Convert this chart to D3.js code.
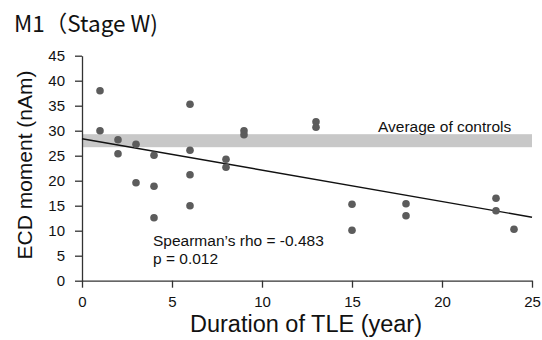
<!DOCTYPE html>
<html>
<head>
<meta charset="utf-8">
<script src="https://cdn.jsdelivr.net/npm/d3@7"></script>
<style>
  body { margin: 0; background: #fff; }
  text { font-family: "Liberation Sans", Arial, sans-serif; fill: #111; }
</style>
</head>
<body>
<div id="chart"></div>
<script>
//////////////////////////////////////////////////////////////
///////////////////////// Data ///////////////////////////////
//////////////////////////////////////////////////////////////

var durations = [1, 1, 2, 2, 3, 3, 4, 4, 4, 6, 6, 6, 6, 8, 8, 9, 9, 13, 13, 15, 15, 18, 18, 23, 23, 24];
var moments   = [38, 30, 28.2, 25.4, 27.3, 19.6, 25.1, 18.9, 12.6, 35.3, 26.1, 21.2, 15, 24.3, 22.7, 30, 29.2, 31.8, 30.7, 15.3, 10.1, 15.4, 13, 16.5, 14, 10.3];

var fitLine = [[0, 28.4], [25, 12.7]];
var controlBand = [26.7, 29.3];

var xTicks = [0, 5, 10, 15, 20, 25];
var yTicks = [0, 5, 10, 15, 20, 25, 30, 35, 40, 45];

//////////////////////////////////////////////////////////////
/////////////////////// Set up svg ///////////////////////////
//////////////////////////////////////////////////////////////

var width = 542, height = 340;
var margin = { top: 55.7, right: 10, bottom: 59.3, left: 82 };

var svg = d3.select("#chart").append("svg")
	.attr("width", width)
	.attr("height", height);

var x = d3.scaleLinear().domain([0, 25]).range([margin.left, 532]);
var y = d3.scaleLinear().domain([0, 45]).range([height - margin.bottom, margin.top]);

//Title
svg.append("text")
	.attr("x", 14)
	.attr("y", 32)
	.style("font-family", "'Noto Sans CJK SC', 'Noto Sans', sans-serif")
	.style("font-size", "22.5px")
	.text("M1（Stage W)");

//Average of controls band
svg.append("rect")
	.attr("x", x(0))
	.attr("y", y(controlBand[1]))
	.attr("width", x(25) - x(0))
	.attr("height", y(controlBand[0]) - y(controlBand[1]))
	.style("fill", "#c8c8c8");

svg.append("text")
	.attr("x", 378)
	.attr("y", 131.5)
	.style("font-size", "15.5px")
	.text("Average of controls");

//////////////////////////////////////////////////////////////
///////////////////////// Axes ///////////////////////////////
//////////////////////////////////////////////////////////////

var xAxis = svg.append("g")
	.attr("transform", "translate(0," + y(0) + ")")
	.call(d3.axisBottom(x).tickValues(xTicks).tickSize(7).tickSizeOuter(0).tickPadding(9));

var yAxis = svg.append("g")
	.attr("transform", "translate(" + x(0) + ",0)")
	.call(d3.axisLeft(y).tickValues(yTicks).tickSize(7).tickSizeOuter(0).tickPadding(10));

[xAxis, yAxis].forEach(function(g) {
	g.selectAll("path, line").style("stroke", "#333").style("stroke-width", 1.3);
	g.selectAll("text")
		.style("font-family", "'Liberation Sans', Arial, sans-serif")
		.style("font-size", "15px")
		.style("fill", "#111");
});

//Axis titles
svg.append("text")
	.attr("x", 306)
	.attr("y", 332)
	.attr("text-anchor", "middle")
	.style("font-size", "23.5px")
	.text("Duration of TLE (year)");

svg.append("text")
	.attr("transform", "translate(32," + 165 + ") rotate(-90)")
	.attr("text-anchor", "middle")
	.style("font-size", "21px")
	.text("ECD moment (nAm)");

//////////////////////////////////////////////////////////////
////////////////////// Fit line & points /////////////////////
//////////////////////////////////////////////////////////////

svg.append("path")
	.datum(fitLine)
	.attr("d", d3.line().x(function(d) { return x(d[0]); }).y(function(d) { return y(d[1]); }))
	.style("fill", "none")
	.style("stroke", "#111")
	.style("stroke-width", 1.4);

svg.selectAll(".dot")
	.data(durations)
	.enter().append("circle")
	.attr("class", "dot")
	.attr("cx", function(d) { return x(d); })
	.attr("cy", function(d, i) { return y(moments[i]); })
	.attr("r", 3.8)
	.style("fill", "#5c5c5c");

//Statistics
svg.append("text")
	.attr("x", 153)
	.attr("y", 246)
	.style("font-size", "15.5px")
	.text("Spearman’s rho = -0.483");

svg.append("text")
	.attr("x", 153)
	.attr("y", 264)
	.style("font-size", "15.5px")
	.text("p = 0.012");
</script>
</body>
</html>
